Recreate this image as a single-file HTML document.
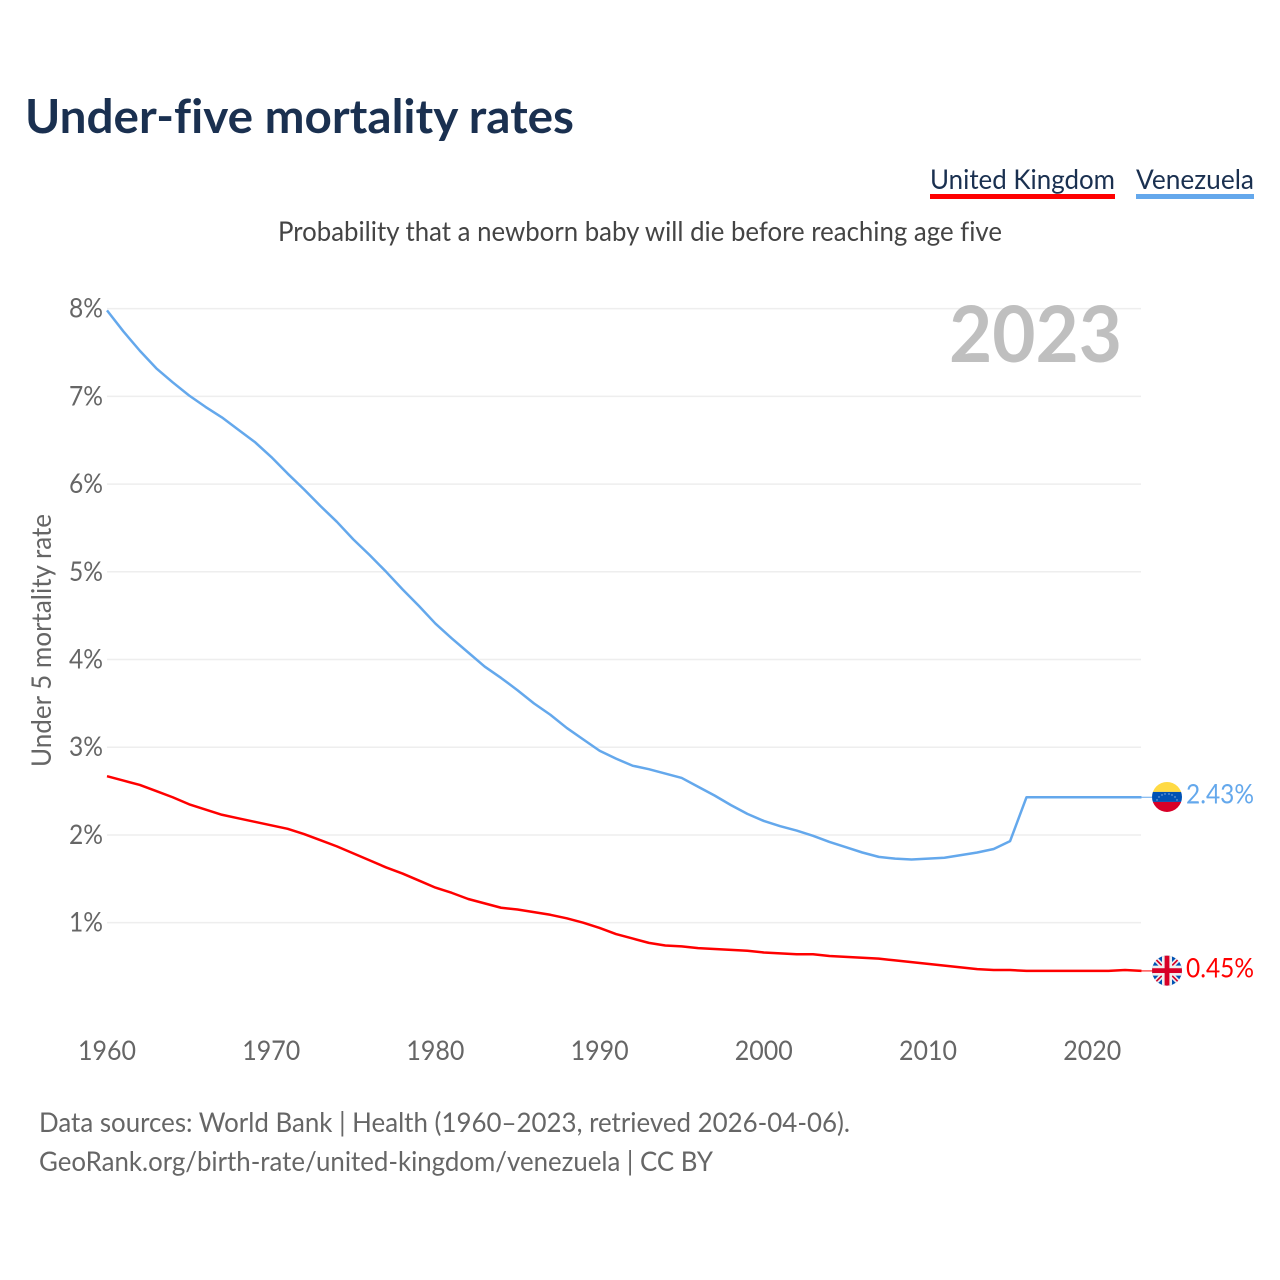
<!DOCTYPE html>
<html lang="en">
<head>
<meta charset="utf-8">
<title>Under-five mortality rates</title>
<style>
html,body{margin:0;padding:0;background:#fff;width:1280px;height:1280px;overflow:hidden}
svg{display:block}
text{font-family:"Lato","Liberation Sans",sans-serif;font-variant-ligatures:none;font-feature-settings:"liga" 0}
</style>
</head>
<body>
<svg id="chart" xmlns="http://www.w3.org/2000/svg" width="1280" height="1280" viewBox="0 0 1280 1280">
<defs>
<clipPath id="flag-clip"><circle cx="0" cy="0" r="15"/></clipPath>
</defs>
<rect x="0" y="0" width="1280" height="1280" fill="#ffffff"/>
<text x="25" y="133" font-size="47" font-weight="700" fill="#1a3050" textLength="549" lengthAdjust="spacingAndGlyphs">Under-five mortality rates</text>
<text x="930" y="189" font-size="27" fill="#1a3050" textLength="185" lengthAdjust="spacingAndGlyphs">United Kingdom</text>
<rect x="930" y="194" width="185" height="5" fill="#ff0000"/>
<text x="1136" y="189" font-size="27" fill="#1a3050" textLength="118" lengthAdjust="spacingAndGlyphs">Venezuela</text>
<rect x="1136" y="194" width="118" height="5" fill="#64a8ec"/>
<text x="278" y="241" font-size="27" fill="#444444" textLength="724" lengthAdjust="spacingAndGlyphs">Probability that a newborn baby will die before reaching age five</text>
<g id="grid"></g>
<text x="949" y="362" font-size="78" font-weight="700" fill="#bfbfbf" textLength="173" lengthAdjust="spacingAndGlyphs">2023</text>
<g id="y-axis"></g>
<text transform="translate(51,767) rotate(-90)" x="0" y="0" font-size="27" fill="#666666" textLength="253" lengthAdjust="spacingAndGlyphs">Under 5 mortality rate</text>
<g id="x-axis"></g>
<g id="series"></g>
<g id="flag-ve">
<g clip-path="url(#flag-clip)">
<rect x="-15" y="-16" width="30" height="11" fill="#ffda44"/>
<rect x="-15" y="-5" width="30" height="10" fill="#0052b4"/>
<rect x="-15" y="5" width="30" height="11" fill="#d80027"/>
<g fill="#dfe8f5">
<circle cx="-10" cy="3" r="0.6"/><circle cx="-8" cy="0" r="0.6"/><circle cx="-5" cy="-2" r="0.6"/><circle cx="-2" cy="-3" r="0.6"/><circle cx="2" cy="-3" r="0.6"/><circle cx="5" cy="-2" r="0.6"/><circle cx="8" cy="0" r="0.6"/><circle cx="10" cy="3" r="0.6"/>
</g>
</g>
</g>
<g id="flag-uk">
<g clip-path="url(#flag-clip)">
<rect x="-15" y="-16" width="30" height="32" fill="#0052b4"/>
<path d="M-15 -15 L15 15 M15 -15 L-15 15" stroke="#f0f0f0" stroke-width="5" fill="none"/>
<path d="M-15 -15 L-3 -3 M15 15 L3 3 M15 -15 L3 -3 M-15 15 L-3 3" stroke="#d80027" stroke-width="1.6" fill="none"/>
<rect x="-5" y="-16" width="10" height="32" fill="#f0f0f0"/>
<rect x="-15" y="-5" width="30" height="10" fill="#f0f0f0"/>
<rect x="-2.4" y="-16" width="4.8" height="32" fill="#d80027"/>
<rect x="-15" y="-2.4" width="30" height="4.8" fill="#d80027"/>
</g>
</g>
<text id="label-ve" x="1186" font-size="27" fill="#64a8ec" textLength="68" lengthAdjust="spacingAndGlyphs"></text>
<text id="label-uk" x="1186" font-size="27" fill="#ff0000" textLength="68" lengthAdjust="spacingAndGlyphs"></text>
<text x="39" y="1132" font-size="27" fill="#666666" textLength="811" lengthAdjust="spacingAndGlyphs">Data sources: World Bank | Health (1960–2023, retrieved 2026-04-06).</text>
<text x="39" y="1171" font-size="27" fill="#666666" textLength="674" lengthAdjust="spacingAndGlyphs">GeoRank.org/birth-rate/united-kingdom/venezuela | CC BY</text>
</svg>
<script>
var startYear = 1960;
var yTicks = [1, 2, 3, 4, 5, 6, 7, 8];
var xTicks = [1960, 1970, 1980, 1990, 2000, 2010, 2020];
var venezuela = [7.98,7.74,7.52,7.32,7.16,7.01,6.88,6.76,6.62,6.48,6.31,6.12,5.94,5.75,5.57,5.37,5.19,5.00,4.80,4.61,4.41,4.24,4.08,3.92,3.79,3.65,3.50,3.37,3.22,3.09,2.96,2.87,2.79,2.75,2.70,2.65,2.55,2.45,2.34,2.24,2.16,2.10,2.05,1.99,1.92,1.86,1.80,1.75,1.73,1.72,1.73,1.74,1.77,1.80,1.84,1.93,2.43,2.43,2.43,2.43,2.43,2.43,2.43,2.43];
var unitedKingdom = [2.67,2.62,2.57,2.50,2.43,2.35,2.29,2.23,2.19,2.15,2.11,2.07,2.01,1.94,1.87,1.79,1.71,1.63,1.56,1.48,1.40,1.34,1.27,1.22,1.17,1.15,1.12,1.09,1.05,1.00,0.94,0.87,0.82,0.77,0.74,0.73,0.71,0.70,0.69,0.68,0.66,0.65,0.64,0.64,0.62,0.61,0.60,0.59,0.57,0.55,0.53,0.51,0.49,0.47,0.46,0.46,0.45,0.45,0.45,0.45,0.45,0.45,0.46,0.45];

var NS = 'http://www.w3.org/2000/svg';
function xScale(year) { return 107 + (year - 1960) * 16.42; }
function yScale(value) { return 1010.4 - value * 87.72; }
function make(tag, attrs, parent) {
  var el = document.createElementNS(NS, tag);
  for (var k in attrs) { el.setAttribute(k, attrs[k]); }
  parent.appendChild(el);
  return el;
}
var gridGroup = document.getElementById('grid');
var yAxisGroup = document.getElementById('y-axis');
var xAxisGroup = document.getElementById('x-axis');
var seriesGroup = document.getElementById('series');

yTicks.forEach(function (t) {
  var line = make('line', { x1: 107, x2: 1141, y1: yScale(t), y2: yScale(t), stroke: '#eeeeee', 'stroke-width': 1.5 }, gridGroup);
  
  
  var label = make('text', { x: 69, y: yScale(t) + 9, 'font-size': 27, fill: '#666666', textLength: 34, lengthAdjust: 'spacingAndGlyphs' }, yAxisGroup);
  label.textContent = t + '%';
  
  
});

xTicks.forEach(function (t) {
  var label = make('text', { x: xScale(t) - 29, y: 1060, 'font-size': 27, fill: '#666666', textLength: 58, lengthAdjust: 'spacingAndGlyphs' }, xAxisGroup);
  label.textContent = String(t);
  
  
});

function linePoints(values) {
  return values.map(function (v, i) {
    return xScale(startYear + i).toFixed(2) + ',' + yScale(v).toFixed(2);
  }).join(' ');
}

var lineVe = make('polyline', { points: linePoints(venezuela), fill: 'none', stroke: '#64a8ec', 'stroke-width': 2.5, 'stroke-linejoin': 'round' }, seriesGroup);


var lineUk = make('polyline', { points: linePoints(unitedKingdom), fill: 'none', stroke: '#ff0000', 'stroke-width': 2.5, 'stroke-linejoin': 'round' }, seriesGroup);



function endMarker(values, color, flagId, labelId, suffix) {
  var last = values[values.length - 1];
  var y = yScale(last);
  var conn = make('line', { x1: 1141, x2: 1152, y1: y, y2: y, stroke: color, 'stroke-width': 1 }, seriesGroup);
  
  
  document.getElementById(flagId).setAttribute('transform', 'translate(1167,' + (y - 0.3) + ')');
  var label = document.getElementById(labelId);
  label.setAttribute('y', y + 6.5);
  label.textContent = last.toFixed(2) + '%';
}
endMarker(venezuela, '#64a8ec', 'flag-ve', 'label-ve', 'venezuela');
endMarker(unitedKingdom, '#ff0000', 'flag-uk', 'label-uk', 'united-kingdom');
</script>
</body>
</html>
